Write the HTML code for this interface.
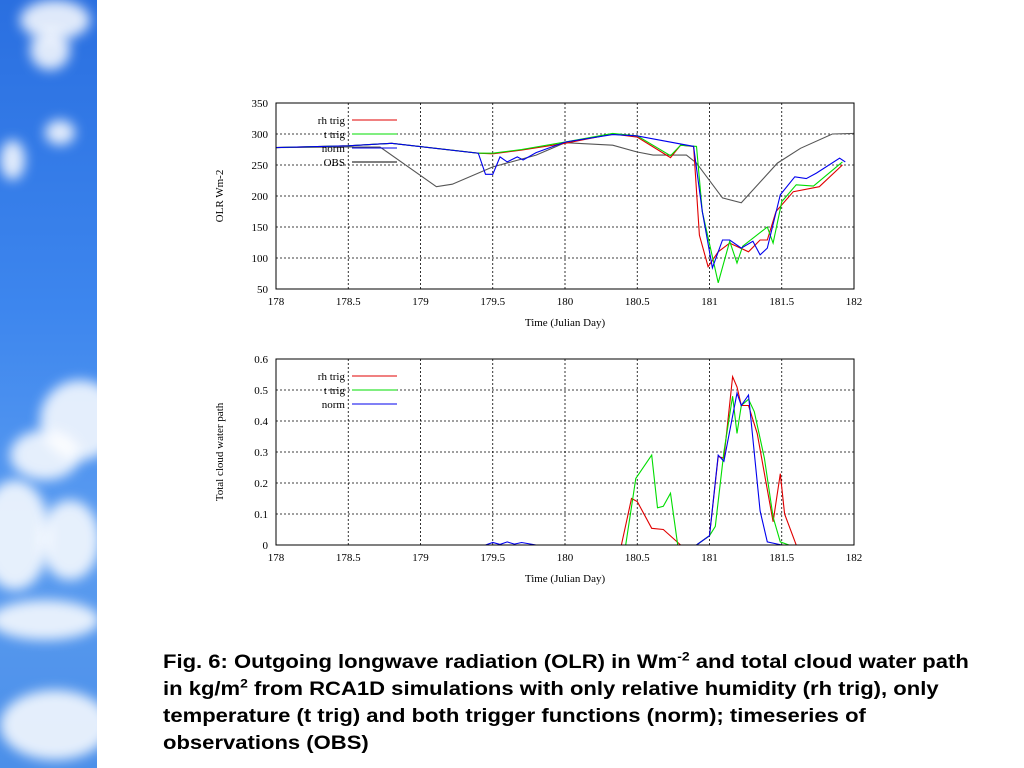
<!DOCTYPE html>
<html><head><meta charset="utf-8">
<style>
body{margin:0;width:1024px;height:768px;background:#fff;overflow:hidden;position:relative;font-family:"Liberation Sans",sans-serif}
#side{position:absolute;left:0;top:0;width:97px;height:768px;background:linear-gradient(180deg,#2a6fe0 0%,#3d86ee 40%,#5b9cf0 70%,#4b8fe9 100%);overflow:hidden}
.cl{position:absolute;background:#fff;border-radius:50%;filter:blur(6px);opacity:.85}
#cap{position:absolute;left:163px;top:649px;width:712px;font-weight:bold;font-size:19px;line-height:27px;color:#000;transform:scaleX(1.16);transform-origin:0 0}
sup{font-size:12px;line-height:0}
svg{position:absolute;left:0;top:0}
text{font-family:"Liberation Serif",serif;font-size:11px}
</style></head><body>
<div id="side">
<div class="cl" style="left:20px;top:0;width:70px;height:40px"></div>
<div class="cl" style="left:30px;top:30px;width:40px;height:40px"></div>
<div class="cl" style="left:45px;top:120px;width:30px;height:25px"></div>
<div class="cl" style="left:0;top:140px;width:25px;height:40px"></div>
<div class="cl" style="left:40px;top:380px;width:80px;height:80px"></div>
<div class="cl" style="left:10px;top:430px;width:70px;height:50px"></div>
<div class="cl" style="left:-20px;top:480px;width:70px;height:110px"></div>
<div class="cl" style="left:40px;top:500px;width:60px;height:80px"></div>
<div class="cl" style="left:-10px;top:600px;width:110px;height:40px"></div>
<div class="cl" style="left:0;top:690px;width:110px;height:70px"></div>
</div>
<svg id="chart" width="1024" height="768"></svg>
<div id="cap">Fig. 6: Outgoing longwave radiation (OLR) in Wm<sup>-2</sup> and total cloud water path in kg/m<sup>2</sup> from RCA1D simulations with only relative humidity (rh trig), only temperature (t trig) and both trigger functions (norm); timeseries of observations (OBS)</div>
<script>
const xTicks=[178,178.5,179,179.5,180,180.5,181,181.5,182];
const olrTicks=[50,100,150,200,250,300,350];
const cwpTicks=[0,0.1,0.2,0.3,0.4,0.5,0.6];
const obsT=[178,178.5,178.72,179.11,179.22,179.5,179.8,180,180.33,180.5,180.61,180.84,180.91,181.09,181.22,181.47,181.63,181.85,182];
const obsV=[278,279,279,215,219,247,266,286,282,271,266,266,253,197,189,253,277,300,301];
const normT=[178,178.5,178.8,179.4,179.45,179.5,179.55,179.6,179.67,179.71,179.8,180,180.33,180.5,180.89,180.95,181.02,181.09,181.14,181.22,181.3,181.35,181.4,181.49,181.59,181.67,181.74,181.9,181.94];
const normV=[278,281,285,269,235,235,263,255,263,258,270,287,299,297,280,175,84,129,129,116,127,105,116,202,231,228,237,261,255];
const rhT=[178,178.5,178.8,179.4,179.5,179.7,180,180.33,180.5,180.73,180.8,180.89,180.93,180.99,181.06,181.14,181.27,181.35,181.4,181.46,181.58,181.76,181.92];
const rhV=[278,281,285,269,268,274,285,300,295,262,282,280,137,86,110,124,110,129,129,175,207,215,250];
const ttT=[178,178.5,178.8,179.4,179.5,179.7,180,180.33,180.5,180.73,180.8,180.91,180.95,181.06,181.14,181.19,181.23,181.4,181.44,181.5,181.6,181.72,181.92];
const ttV=[278,281,285,269,269,275,287,301,297,265,282,280,175,60,127,92,119,150,124,191,218,216,255];
const cRhT=[178,180.39,180.46,180.5,180.6,180.68,180.8,180.91,181.0,181.06,181.1,181.16,181.19,181.22,181.27,181.33,181.44,181.49,181.52,181.6,182];
const cRhV=[0,0,0.15,0.14,0.054,0.05,0,0,0.03,0.285,0.28,0.543,0.51,0.45,0.45,0.36,0.075,0.23,0.1,0,0];
const cTtT=[178,180.42,180.49,180.6,180.64,180.68,180.73,180.78,180.91,181.0,181.04,181.1,181.16,181.19,181.22,181.27,181.31,181.38,181.44,181.49,181.55,182];
const cTtV=[0,0,0.215,0.29,0.12,0.125,0.167,0,0,0.03,0.06,0.3,0.48,0.36,0.45,0.47,0.43,0.28,0.09,0.01,0,0];
const cNmT=[178,179.45,179.5,179.55,179.6,179.65,179.7,179.8,180.91,181.0,181.06,181.1,181.19,181.22,181.27,181.35,181.4,181.5,181.95];
const cNmV=[0,0,0.008,0.002,0.01,0.003,0.008,0,0,0.03,0.29,0.27,0.49,0.45,0.484,0.11,0.01,0,0];

const svg=document.getElementById('chart');const NS='http://www.w3.org/2000/svg';
function el(t,a,p){const e=document.createElementNS(NS,t);for(const k in a)e.setAttribute(k,a[k]);(p||svg).appendChild(e);return e;}
const X0=276,X1=854;
function sx(d){return X0+(d-178)/4*(X1-X0);}
function drawPanel(name,top,bot,ymin,ymax,ticks,fmt,ylabel,series,legend){
  const g=el('g',{});
  
  
  const sy=v=>bot-(v-ymin)/(ymax-ymin)*(bot-top);
  ticks.forEach(t=>{const y=sy(t);
    if(t!==ymin&&t!==ymax){const l=el('line',{x1:X0,x2:X1,y1:y,y2:y,stroke:'#000','stroke-width':0.8,'stroke-dasharray':'2,2'},g);}
    const tx=el('text',{x:268,y:y+4,'text-anchor':'end'},g);tx.textContent=fmt(t);
    });
  xTicks.forEach(t=>{const x=sx(t);
    if(t!==178&&t!==182){const l=el('line',{x1:x,x2:x,y1:top,y2:bot,stroke:'#000','stroke-width':0.8,'stroke-dasharray':'2,2'},g);}
    const tx=el('text',{x:x,y:bot+16,'text-anchor':'middle'},g);tx.textContent=String(t);
    });
  const xl=el('text',{x:565,y:bot+37,'text-anchor':'middle'},g);xl.textContent='Time (Julian Day)';
  
  const yl=el('text',{x:0,y:0,'text-anchor':'middle',transform:`translate(223,${(top+bot)/2}) rotate(-90)`},g);yl.textContent=ylabel;
  
  series.forEach(s=>{const pts=s.t.map((t,i)=>sx(t).toFixed(1)+','+sy(Math.max(ymin,s.v[i])).toFixed(1)).join(' ');
    const p=el('polyline',{points:pts,fill:'none',stroke:s.c,'stroke-width':1.1},g);
    });
  legend.forEach((l,i)=>{const y=top+17+i*14;
    const tx=el('text',{x:345,y:y+4,'text-anchor':'end'},g);tx.textContent=l.label;
    
    const ln=el('line',{x1:352,x2:397,y1:y,y2:y,stroke:l.c,'stroke-width':1.1},g);
    });
  const fr=el('rect',{x:X0,y:top,width:X1-X0,height:bot-top,fill:'none',stroke:'#000','stroke-width':1},g);
  
}
drawPanel('olr-chart',103,289,50,350,olrTicks,t=>String(t),'OLR  Wm-2',
 [{t:obsT,v:obsV,c:'#555',n:'obs'},{t:rhT,v:rhV,c:'#e00000',n:'rh-trig'},{t:ttT,v:ttV,c:'#00dd00',n:'t-trig'},{t:normT,v:normV,c:'#0000ee',n:'norm'}],
 [{label:'rh trig',c:'#e00000'},{label:'t trig',c:'#00dd00'},{label:'norm',c:'#0000ee'},{label:'OBS',c:'#000'}]);
drawPanel('cloud-water-chart',359,545,0,0.6,cwpTicks,t=>t===0?'0':String(+t.toFixed(1)),'Total cloud water path',
 [{t:cRhT,v:cRhV,c:'#e00000',n:'rh-trig'},{t:cTtT,v:cTtV,c:'#00dd00',n:'t-trig'},{t:cNmT,v:cNmV,c:'#0000ee',n:'norm'}],
 [{label:'rh trig',c:'#e00000'},{label:'t trig',c:'#00dd00'},{label:'norm',c:'#0000ee'}]);
</script>
</body></html>
